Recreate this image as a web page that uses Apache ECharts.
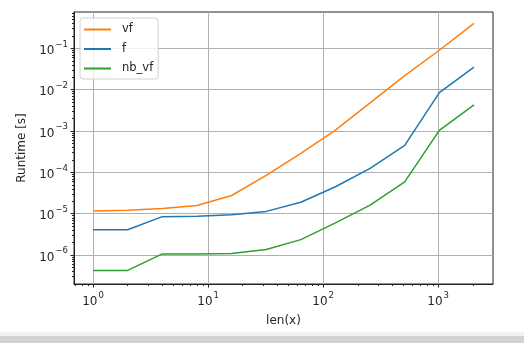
<!DOCTYPE html>
<html>
<head>
<meta charset="utf-8">
<style>html,body{margin:0;padding:0;background:#fff;}#c{width:524px;height:343px;}</style>
<script src="https://cdn.jsdelivr.net/npm/echarts@6/dist/echarts.min.js"></script>
</head>
<body>
<div id="c"></div>
<script>
const lengths = [1, 2, 4, 8, 16, 32, 64, 128, 256, 512, 1024, 2048];
const vf    = [1.16e-5, 1.22e-5, 1.34e-5, 1.58e-5, 2.76e-5, 8.5e-5, 2.9e-4, 1.05e-3, 4.8e-3, 2.2e-2, 9.0e-2, 0.40];
const f     = [4.1e-6, 4.1e-6, 8.5e-6, 8.75e-6, 9.5e-6, 1.14e-5, 1.9e-5, 4.5e-5, 1.25e-4, 4.5e-4, 8.5e-3, 3.5e-2];
const nb_vf = [4.27e-7, 4.27e-7, 1.07e-6, 1.07e-6, 1.09e-6, 1.37e-6, 2.37e-6, 6.0e-6, 1.62e-5, 5.9e-5, 1.04e-3, 4.3e-3];
const xMajor = [1, 10, 100, 1000];
const yMajor = [1e-6, 1e-5, 1e-4, 1e-3, 1e-2, 1e-1];
const seriesNames = ['vf', 'f', 'nb_vf'];
const colors = ['#ff7f0e', '#1f77b4', '#2ca02c'];

const xMin = 0.683, xMax = 2997, yMin = 2.0e-7, yMax = 0.757;

function minorBetween(lo, hi) {
  const out = [];
  for (let e = Math.floor(Math.log10(lo)) ; e <= Math.ceil(Math.log10(hi)); e++) {
    for (let m = 2; m <= 9; m++) {
      const v = m * Math.pow(10, e);
      if (v > lo && v < hi) out.push(v);
    }
  }
  return out;
}
const xMinor = minorBetween(xMin, xMax);
const yMinor = minorBetween(yMin, yMax);

function pow10Label(v) {
  const e = Math.round(Math.log10(v));
  if (Math.abs(Math.log10(v) - e) > 1e-6) return '';
  const s = e < 0 ? '\u2212' + (-e) : String(e);
  return '{b|10}{s|' + s + '}';
}
const rich = {
  b: { fontSize: 12, color: '#262626', fontFamily: 'DejaVu Sans', verticalAlign: 'bottom', lineHeight: 17 },
  s: { fontSize: 8.5, color: '#262626', fontFamily: 'DejaVu Sans', verticalAlign: 'top', lineHeight: 17, padding: [0, 0, 0, 1] }
};

const gridBox = { left: 74, right: 31, top: 12, bottom: 59 };

const chart = echarts.init(document.getElementById('c'), null, { renderer: 'canvas' });
chart.setOption({
  animation: false,
  backgroundColor: '#fff',
  grid: Object.assign({ show: true, borderColor: '#222', borderWidth: 1, containLabel: false }, gridBox),
  legend: {
    data: seriesNames,
    orient: 'vertical',
    left: 80, top: 18,
    padding: [5, 5, 4, 4],
    itemWidth: 27, itemHeight: 2, itemGap: 6.5,
    icon: 'rect',
    backgroundColor: 'rgba(255,255,255,0.8)',
    borderColor: '#d0d0d0', borderWidth: 1, borderRadius: 3,
    textStyle: { fontFamily: 'DejaVu Sans', fontSize: 11.5, color: '#262626', padding: [0, 0, 0, 6], lineHeight: 13 }
  },
  xAxis: [{
    type: 'log', logBase: 10, min: xMin, max: xMax,
    name: 'len(x)', nameLocation: 'middle', nameGap: 31,
    nameTextStyle: { fontFamily: 'DejaVu Sans', fontSize: 12, color: '#262626' },
    axisLine: { show: true, lineStyle: { color: '#222', width: 1 } },
    axisTick: { show: true, length: 3.5, lineStyle: { color: '#222' }, customValues: xMajor },
    axisLabel: { show: true, margin: 7, formatter: pow10Label, rich: rich, customValues: xMajor },
    splitLine: { show: true, lineStyle: { color: '#b0b0b0', width: 1 } },
    minorTick: { show: false }
  }, {
    type: 'log', logBase: 10, min: xMin, max: xMax, position: 'bottom',
    axisLine: { show: false },
    axisTick: { show: true, length: 2, lineStyle: { color: '#222' }, customValues: xMinor },
    axisLabel: { show: false },
    splitLine: { show: false }
  }],
  yAxis: [{
    type: 'log', logBase: 10, min: yMin, max: yMax,
    name: 'Runtime [s]', nameLocation: 'middle', nameGap: 45,
    nameTextStyle: { fontFamily: 'DejaVu Sans', fontSize: 12, color: '#262626' },
    axisLine: { show: true, lineStyle: { color: '#222', width: 1 } },
    axisTick: { show: true, length: 3.5, lineStyle: { color: '#222' }, customValues: yMajor },
    axisLabel: { show: true, margin: 6, formatter: pow10Label, rich: rich, customValues: yMajor },
    splitLine: { show: true, lineStyle: { color: '#b0b0b0', width: 1 } }
  }, {
    type: 'log', logBase: 10, min: yMin, max: yMax, position: 'left',
    axisLine: { show: false },
    axisTick: { show: true, length: 2, lineStyle: { color: '#222' }, customValues: yMinor },
    axisLabel: { show: false },
    splitLine: { show: false }
  }],
  series: [vf, f, nb_vf].map((vals, i) => ({
    name: seriesNames[i],
    type: 'line',
    xAxisIndex: 0, yAxisIndex: 0,
    data: lengths.map((x, j) => [x, vals[j]]),
    showSymbol: false, symbol: 'none',
    itemStyle: { color: colors[i] },
    lineStyle: { color: colors[i], width: 1.5 },
    z: 3
  })),
  graphic: [
    { type: 'rect', shape: { x: 0, y: 332, width: 524, height: 4 }, style: { fill: '#f2f2f2' }, silent: true },
    { type: 'rect', shape: { x: 0, y: 336, width: 524, height: 7 }, style: { fill: '#d2d2d2' }, silent: true }
  ]
});
</script>
</body>
</html>
